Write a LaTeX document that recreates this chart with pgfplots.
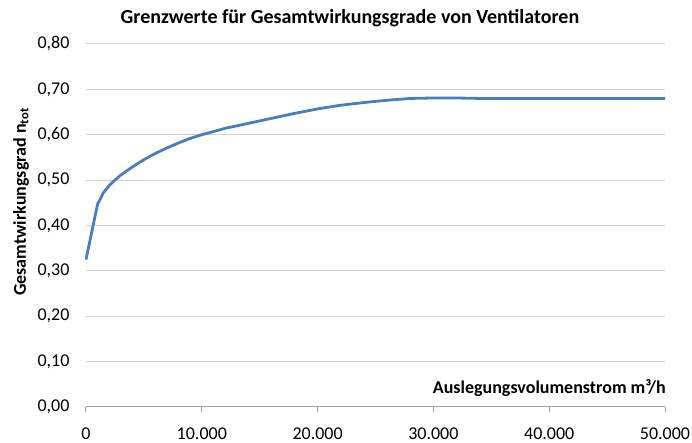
\documentclass[border=0pt]{standalone}
\usepackage{pgfplots}
\pgfplotsset{compat=1.18}
\usepackage{fontspec}
\setmainfont{Carlito}
\usetikzlibrary{calc}
\definecolor{lineblue}{HTML}{4A7EBB}
\definecolor{gridgray}{HTML}{D0D0D0}
\definecolor{axisgray}{HTML}{A0A0A0}
\begin{document}
\begin{tikzpicture}
\begin{axis}[
  name=ax,
  scale only axis,
  width=579pt, height=363pt,
  xmin=0, xmax=50000, ymin=0, ymax=0.8,
  axis x line*=bottom,
  axis y line*=left,
  y axis line style={draw=none},
  ytick={0,0.1,...,0.8},
  xtick={0,10000,...,50000},
  ymajorgrids,
  grid style={gridgray, line width=1pt},
  x axis line style={axisgray, line width=1pt, -},
  xtick style={axisgray, line width=1pt},
  ytick style={draw=none},
  xtick align=outside,
  major tick length=5pt,
  tick label style={font=\fontsize{18}{20}\selectfont, text=black},
  /pgf/number format/assume math mode=true,
  xticklabel={\pgfmathprintnumber[fixed, 1000 sep={.}]{\tick}},
  yticklabel={\pgfmathprintnumber[fixed, fixed zerofill, precision=2, use comma]{\tick}},
  xticklabel style={yshift=-12pt},
  yticklabel style={xshift=-13pt},
  scaled x ticks=false,
  scaled y ticks=false,
  clip=false,
]
\addplot[lineblue, line width=2.8pt, line join=round] coordinates {
(0,0.325) (1000,0.447) (1500,0.472) (2000,0.488) (2500,0.500) (3000,0.511)
(4000,0.529) (5000,0.545) (6000,0.559) (7000,0.571) (8000,0.582) (9000,0.592)
(10000,0.600) (12000,0.614) (14000,0.625) (16000,0.636) (18000,0.647)
(20000,0.657) (22000,0.665) (24000,0.671) (26000,0.676) (28000,0.680)
(30000,0.681) (32000,0.681) (34000,0.680) (40000,0.680) (50000,0.680)
};
\end{axis}
\node[font=\bfseries\fontsize{20}{22}\selectfont] at ($(ax.north west)+(264pt,26pt)$) {Grenzwerte für Gesamtwirkungsgrade von Ventilatoren};
\node[font=\bfseries\fontsize{18}{20}\selectfont, rotate=90] at ($(ax.south west)+(-65pt,205pt)$) {Gesamtwirkungsgrad n\textsubscript{tot}};
\node[font=\bfseries\fontsize{18}{20}\selectfont, anchor=east, inner sep=0pt] at ($(ax.south east)+(1pt,19pt)$) {Auslegungsvolumenstrom m³/h};
\pgfresetboundingbox
\path[use as bounding box] ($(ax.south west)+(-86pt,-36pt)$) rectangle ($(ax.north east)+(27pt,44pt)$);
\end{tikzpicture}
\end{document}
